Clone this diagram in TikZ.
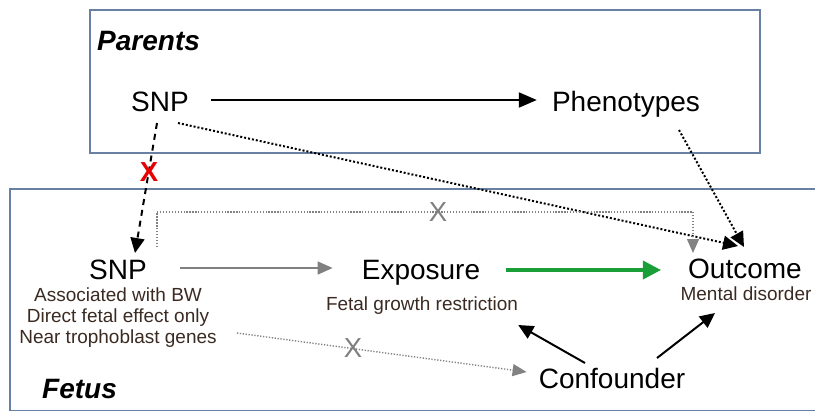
\documentclass[tikz,border=0pt]{standalone}
\usepackage{fontspec}
\setmainfont{Liberation Sans}
\usepackage{xcolor}
\usetikzlibrary{arrows.meta,positioning}
\definecolor{boxblue}{RGB}{104,128,162}
\definecolor{notebrown}{RGB}{58,42,34}
\definecolor{arrowgrey}{RGB}{128,128,128}
\definecolor{dotgrey}{RGB}{130,130,130}
\definecolor{fxgreen}{RGB}{26,158,56}
\definecolor{crossred}{RGB}{230,0,0}
\newcommand{\labfont}[0]{\fontsize{23.9}{28}\selectfont}
\newcommand{\notefont}[0]{\fontsize{16.2}{19}\selectfont}
\newcommand{\crossfont}[0]{\fontsize{23.5}{27}\selectfont}

\begin{document}
\begin{tikzpicture}[x=0.03cm,y=-0.03cm,
    lab/.style={inner sep=0pt,anchor=base,font=\labfont},
    note/.style={inner sep=0pt,anchor=base,font=\notefont,text=notebrown},
    title/.style={inner sep=0pt,anchor=base west,font=\labfont\bfseries\itshape},
    cross/.style={inner sep=0pt,font=\crossfont},
    group/.style={draw=boxblue,line width=1pt},
    solidarr/.style={line width=1.7pt,-{Triangle[length=0.54cm,width=0.45cm]}},
    dasharr/.style={line width=1.7pt,dash pattern=on 5.1pt off 4.3pt,-{Triangle[length=0.45cm,width=0.42cm]}},
    dotarr/.style={line width=1.7pt,dash pattern=on 1.7pt off 1.7pt,-{Triangle[length=0.45cm,width=0.42cm]}},
    greyarr/.style={draw=arrowgrey,line width=1.3pt,-{Triangle[length=0.45cm,width=0.39cm]}},
    greydotarr/.style={draw=dotgrey,line width=1.2pt,dash pattern=on 1.1pt off 1.4pt,-{Triangle[length=0.42cm,width=0.36cm]}},
    greenarr/.style={draw=fxgreen,line width=3pt,-{Triangle[length=0.54cm,width=0.54cm]}}
  ]
  \useasboundingbox (0,0) rectangle (815,412);

  % groups
  \draw[group] (90,10) rectangle (760,153);
  \draw[group] (10,189) rectangle (830,410.5);
  \node[title] (parents) at (97,50) {Parents};
  \node[title] (fetus) at (42,398) {Fetus};

  % parents
  \node[lab] (psnp) at (160,111) {SNP};
  \node[lab] (pheno) at (626,111) {Phenotypes};

  % fetus
  \node[lab] (fsnp) at (118,279) {SNP};
  \node[note] (fsnpa) at (118,301) {Associated with BW};
  \node[note] (fsnpb) at (118,322) {Direct fetal effect only};
  \node[note] (fsnpc) at (118,343) {Near trophoblast genes};
  \node[lab] (expo) at (421,279) {Exposure};
  \node[note] (exponote) at (422,310) {Fetal growth restriction};
  \node[lab] (outcome) at (745,278) {Outcome};
  \node[note] (outnote) at (746,300) {Mental disorder};
  \node[lab] (conf) at (612,388) {Confounder};

  % arrows
  \draw[solidarr] ([shift={(22,-11)}]psnp.base east) -- ([shift={(-15,-11)}]pheno.base west);
  \draw[dasharr] ([shift={(-3,12)}]psnp.base) -- ([shift={(17,-26)}]fsnp.base);
  \node[cross,text=crossred,font=\crossfont\bfseries] (pcross) at (149,172) {X};
  \draw[dotarr] ([shift={(18,12)}]psnp.base) -- ([shift={(-7,-32)}]outcome.base);
  \draw[dotarr] ([shift={(53,19)}]pheno.base) -- ([shift={(-1,-31)}]outcome.base);

  \draw[greydotarr] ([shift={(39,-32)}]fsnp.base) -- ++(0,-35) -| ([shift={(-52,-25)}]outcome.base);
  \node[cross,text=arrowgrey] (topcross) at (438,212) {X};
  \draw[greyarr] ([shift={(33,-11)}]fsnp.base east) -- ([shift={(-29,-11)}]expo.base west);
  \draw[greenarr] ([shift={(26,-9)}]expo.base east) -- ([shift={(-27,-8)}]outcome.base west);
  \draw[greydotarr] ([shift={(20,-10)}]fsnpc.base east) -- ([shift={(-12,-16)}]conf.base west);
  \node[cross,text=arrowgrey] (lowcross) at (353,348) {X};

  \draw[solidarr,-{Triangle[length=0.45cm,width=0.42cm]}] ([shift={(-27,-25)}]conf.base) -- ([shift={(0,15)}]exponote.base east);
  \draw[solidarr,-{Triangle[length=0.45cm,width=0.42cm]}] ([shift={(45,-30)}]conf.base) -- ([shift={(-31,13)}]outnote.base);
\end{tikzpicture}
\end{document}
